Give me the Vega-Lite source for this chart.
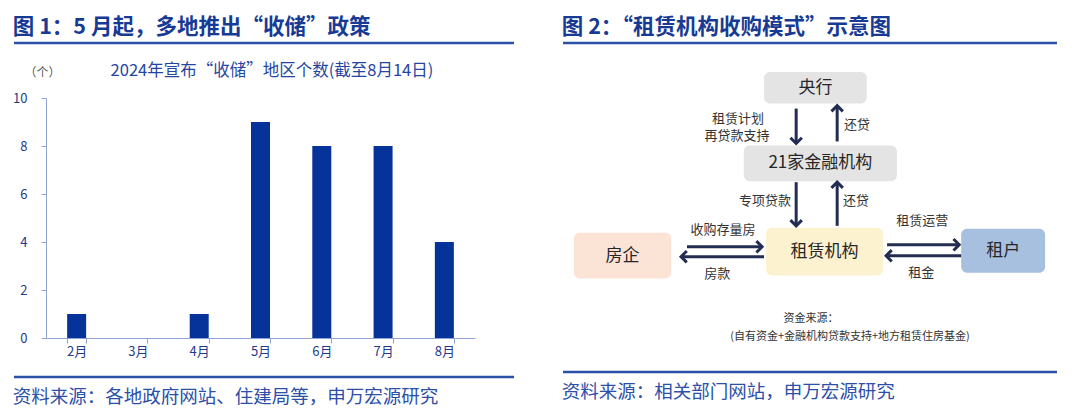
{
  "$schema": "https://vega.github.io/schema/vega-lite/v6.json",
  "padding": {"left": 12, "top": 17, "right": 0, "bottom": 0},
  "background": "white",
  "config": {"font": "Noto Sans CJK SC", "view": {"stroke": null}},
  "datasets": {
    "months": [
      {"month": "2月", "count": 1},
      {"month": "3月", "count": 0},
      {"month": "4月", "count": 1},
      {"month": "5月", "count": 9},
      {"month": "6月", "count": 8},
      {"month": "7月", "count": 8},
      {"month": "8月", "count": 4}
    ],
    "line": [{"pos": 0}],
    "nodes": [
      {"node": "央行", "x1": 40.7, "x2": 61.5, "y1": 3.4, "y2": 14.3},
      {"node": "21家金融机构", "x1": 36.6, "x2": 67.6, "y1": 28.7, "y2": 41.0},
      {"node": "房企", "x1": 2.2, "x2": 21.9, "y1": 58.7, "y2": 74.4},
      {"node": "租赁机构", "x1": 41.1, "x2": 64.8, "y1": 57.0, "y2": 73.4},
      {"node": "租户", "x1": 80.6, "x2": 97.6, "y1": 57.3, "y2": 72.4}
    ],
    "arrows": [
      {"x1": 47.2, "y1": 16.0, "x2": 47.2, "y2": 28.0, "dir": "down"},
      {"x1": 55.5, "y1": 27.3, "x2": 55.5, "y2": 15.0, "dir": "up"},
      {"x1": 47.2, "y1": 41.3, "x2": 47.2, "y2": 56.3, "dir": "down"},
      {"x1": 55.5, "y1": 56.3, "x2": 55.5, "y2": 41.3, "dir": "up"},
      {"x1": 25.1, "y1": 63.5, "x2": 40.3, "y2": 63.5, "dir": "right"},
      {"x1": 40.7, "y1": 66.9, "x2": 23.9, "y2": 66.9, "dir": "left"},
      {"x1": 65.6, "y1": 62.8, "x2": 80.2, "y2": 62.8, "dir": "right"},
      {"x1": 80.6, "y1": 66.6, "x2": 65.4, "y2": 66.6, "dir": "left"}
    ],
    "labels": [
      {"t": "租赁计划", "x": 35.4, "y": 19.5},
      {"t": "再贷款支持", "x": 35.2, "y": 25.3},
      {"t": "还贷", "x": 59.5, "y": 21.5},
      {"t": "专项贷款", "x": 40.9, "y": 47.8},
      {"t": "还贷", "x": 59.3, "y": 47.8},
      {"t": "收购存量房", "x": 32.4, "y": 57.7},
      {"t": "房款", "x": 31.2, "y": 73.0},
      {"t": "租赁运营", "x": 72.7, "y": 54.6},
      {"t": "租金", "x": 72.5, "y": 72.4}
    ],
    "notes": [
      {"t": "资金来源：", "x": 50.2, "y": 88.4},
      {"t": "(自有资金+金融机构贷款支持+地方租赁住房基金)", "x": 58.1, "y": 94.5}
    ]
  },
  "hconcat": [
    {
      "spacing": 17,
      "vconcat": [
        {
          "width": 468, "height": 1,
          "data": {"name": "line"},
          "mark": {"type": "rule", "color": "#2a50a8", "strokeWidth": 2.5},
          "encoding": {"y": {"value": 0}, "x": {"value": -32}, "x2": {"value": 468}},
          "title": {"text": "图 1：5 月起，多地推出“收储”政策", "anchor": "start", "fontSize": 21.5, "fontWeight": "bold", "color": "#173b94", "offset": 3}
        },
        {
          "width": 429, "height": 240,
          "data": {"name": "months"},
          "mark": {"type": "bar", "color": "#06339a"},
          "encoding": {
            "x": {
              "field": "month", "type": "ordinal", "sort": null,
              "scale": {"paddingInner": 0.69, "paddingOuter": 0.345},
              "axis": {"title": null, "labelAngle": 0, "tickBand": "extent", "tickSize": 5, "domainColor": "#8ea2d6", "tickColor": "#8ea2d6", "labelColor": "#1f3a8a", "labelFontSize": 13, "labelPadding": 2}
            },
            "y": {
              "field": "count", "type": "quantitative",
              "scale": {"domain": [0, 10]},
              "axis": {"values": [0, 2, 4, 6, 8, 10], "grid": false, "tickSize": 5, "labelPadding": 14, "domainColor": "#8ea2d6", "tickColor": "#8ea2d6", "labelColor": "#1f3a8a", "labelFontSize": 13,
                "title": "（个）", "titleAngle": 0, "titleX": -4, "titleY": -26, "titleAlign": "center", "titleBaseline": "middle", "titleColor": "#595959", "titleFontWeight": "normal", "titleFontSize": 12}
            }
          },
          "title": {"text": "2024年宣布“收储”地区个数(截至8月14日)", "anchor": "start", "dx": 98, "fontSize": 16.5, "fontWeight": "normal", "color": "#2446a0", "baseline": "middle", "offset": -21}
        },
        {
          "width": 468, "height": 1,
          "data": {"name": "line"},
          "mark": {"type": "rule", "color": "#2a50a8", "strokeWidth": 2.5},
          "encoding": {"y": {"value": 0}, "x": {"value": -32}, "x2": {"value": 468}},
          "title": {"text": "资料来源：各地政府网站、住建局等，申万宏源研究", "orient": "bottom", "anchor": "start", "fontSize": 18.5, "fontWeight": "normal", "color": "#2c4fa8", "offset": 10, "baseline": "top"}
        }
      ]
    },
    {
      "spacing": 17,
      "vconcat": [
        {
          "width": 494, "height": 1,
          "data": {"name": "line"},
          "mark": {"type": "rule", "color": "#2a50a8", "strokeWidth": 2.5},
          "encoding": {"y": {"value": 0}},
          "title": {"text": "图 2：“租赁机构收购模式”示意图", "anchor": "start", "fontSize": 21.5, "fontWeight": "bold", "color": "#173b94", "offset": 3}
        },
        {
          "width": 494, "height": 291,
          "layer": [
            {
              "data": {"name": "nodes"},
              "mark": {"type": "rect", "cornerRadius": 6},
              "encoding": {
                "x": {"field": "x1", "type": "quantitative", "scale": {"domain": [0, 100], "nice": false}, "axis": null},
                "x2": {"field": "x2"},
                "y": {"field": "y1", "type": "quantitative", "scale": {"domain": [0, 100], "nice": false, "reverse": true}, "axis": null},
                "y2": {"field": "y2"},
                "color": {"field": "node", "type": "nominal", "legend": null,
                  "scale": {"domain": ["央行", "21家金融机构", "房企", "租赁机构", "租户"], "range": ["#e4e4e4", "#e4e4e4", "#fbe3d6", "#fdf2cf", "#a7c0e0"]}}
              }
            },
            {
              "data": {"name": "nodes"},
              "transform": [
                {"calculate": "(datum.x1 + datum.x2) / 2", "as": "cx"},
                {"calculate": "(datum.y1 + datum.y2) / 2", "as": "cy"}
              ],
              "mark": {"type": "text", "fontSize": 17, "color": "#262626", "baseline": "middle", "align": "center"},
              "encoding": {
                "x": {"field": "cx", "type": "quantitative"},
                "y": {"field": "cy", "type": "quantitative"},
                "text": {"field": "node"}
              }
            },
            {
              "data": {"name": "arrows"},
              "mark": {"type": "rule", "color": "#232d52", "strokeWidth": 3},
              "encoding": {
                "x": {"field": "x1", "type": "quantitative"},
                "y": {"field": "y1", "type": "quantitative"},
                "x2": {"field": "x2"},
                "y2": {"field": "y2"}
              }
            },
            {
              "data": {"name": "arrows"},
              "mark": {"type": "point", "filled": false, "color": "#232d52", "strokeWidth": 3, "size": 130, "opacity": 1},
              "encoding": {
                "x": {"field": "x2", "type": "quantitative"},
                "y": {"field": "y2", "type": "quantitative"},
                "shape": {"field": "dir", "type": "nominal", "legend": null,
                  "scale": {"domain": ["right", "left", "up", "down"], "range": ["M-1,-1L0,0L-1,1", "M1,-1L0,0L1,1", "M-1,1L0,0L1,1", "M-1,-1L0,0L1,-1"]}}
              }
            },
            {
              "data": {"name": "labels"},
              "mark": {"type": "text", "fontSize": 13, "color": "#333333", "baseline": "middle", "align": "center"},
              "encoding": {
                "x": {"field": "x", "type": "quantitative"},
                "y": {"field": "y", "type": "quantitative"},
                "text": {"field": "t"}
              }
            },
            {
              "data": {"name": "notes"},
              "mark": {"type": "text", "fontSize": 11, "color": "#333333", "baseline": "middle", "align": "center"},
              "encoding": {
                "x": {"field": "x", "type": "quantitative"},
                "y": {"field": "y", "type": "quantitative"},
                "text": {"field": "t"}
              }
            }
          ]
        },
        {
          "width": 494, "height": 1,
          "data": {"name": "line"},
          "mark": {"type": "rule", "color": "#2a50a8", "strokeWidth": 2.5},
          "encoding": {"y": {"value": 0}},
          "title": {"text": "资料来源：相关部门网站，申万宏源研究", "orient": "bottom", "anchor": "start", "fontSize": 18.5, "fontWeight": "normal", "color": "#2c4fa8", "offset": 10, "baseline": "top"}
        }
      ]
    }
  ],
  "spacing": 45
}
